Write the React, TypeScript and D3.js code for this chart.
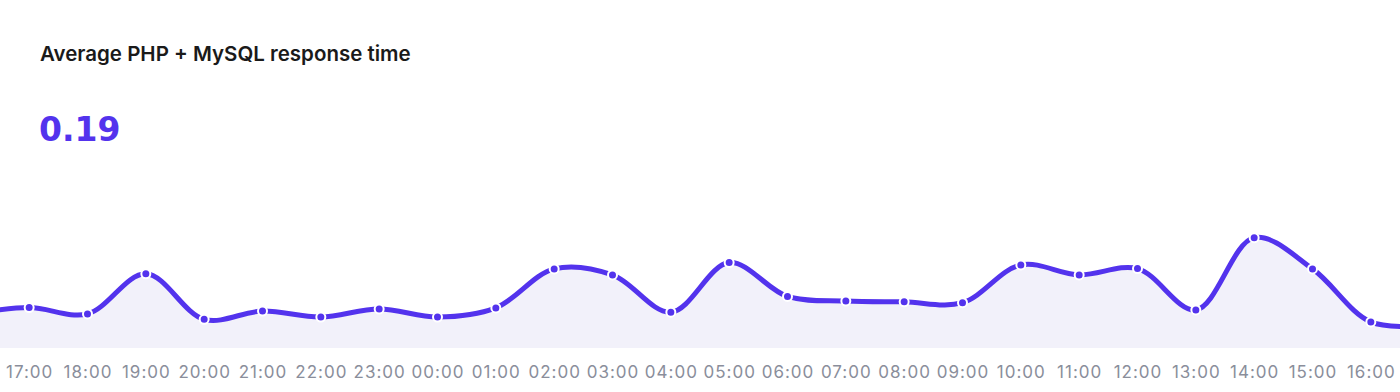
import React from 'react';
import * as d3 from 'd3';

const hours = ['17:00','18:00','19:00','20:00','21:00','22:00','23:00','00:00','01:00','02:00','03:00','04:00','05:00','06:00','07:00','08:00','09:00','10:00','11:00','12:00','13:00','14:00','15:00','16:00'];
// response time in seconds, one per hour
const responseTimes = [0.141,0.119,0.259,0.100,0.129,0.108,0.136,0.108,0.140,0.276,0.255,0.125,0.298,0.180,0.164,0.161,0.158,0.290,0.255,0.277,0.133,0.385,0.276,0.091];
// values just outside the visible window (hour before and after)
const previousValue = 0.118;
const nextValue = 0.078;
const title = 'Average PHP + MySQL response time';
const averageLabel = '0.19';

const W = 1400;
const H = 392;
const PURPLE = '#5333ed';

export default function App() {
  const x = d3.scaleLinear().domain([-0.5, hours.length - 0.5]).range([0, W]);
  const y = d3.scaleLinear().domain([0, 0.6]).range([348, 348 - 0.6 * 286.6]);
  const series: [number, number][] = [
    [-1, previousValue],
    ...responseTimes.map((v, i) => [i, v] as [number, number]),
    [hours.length, nextValue],
  ];
  const curve = d3.curveCatmullRom.alpha(0.5);
  const line = d3.line<[number, number]>().x(d => x(d[0])).y(d => y(d[1])).curve(curve);
  const area = d3.area<[number, number]>().x(d => x(d[0])).y0(y(0)).y1(d => y(d[1])).curve(curve);

  return (
    <svg width={W} height={H} style={{ position: 'absolute', left: 0, top: 0, display: 'block', background: '#fff' }}>
      <defs>
        <clipPath id="plot"><rect x={0} y={0} width={W} height={y(0)} /></clipPath>
      </defs>
      <text x={40} y={61} fontFamily="Inter, 'Open Sans', sans-serif" fontWeight={600} fontSize={20.5} fill="#1a1a1a">{title}</text>
      <text x={39} y={141} fontFamily="'DejaVu Sans', sans-serif" fontWeight={700} fontSize={33} fill={PURPLE}>{averageLabel}</text>
      <g clipPath="url(#plot)">
        <path d={area(series) || ''} fill="#f2f1fa" />
        <path d={line(series) || ''} fill="none" stroke={PURPLE} strokeWidth={5} strokeLinecap="round" />
        {responseTimes.map((v, i) => (
          <circle key={i} cx={x(i)} cy={y(v)} r={4.5} fill={PURPLE} stroke="#fff" strokeWidth={2} />
        ))}
      </g>
      {hours.map((h, i) => (
        <text key={h} x={x(i) + 0.5} y={378} textAnchor="middle" fontFamily="Inter, 'Open Sans', sans-serif" fontSize={17} letterSpacing={1} fill="#8a8e9b">{h}</text>
      ))}
    </svg>
  );
}
